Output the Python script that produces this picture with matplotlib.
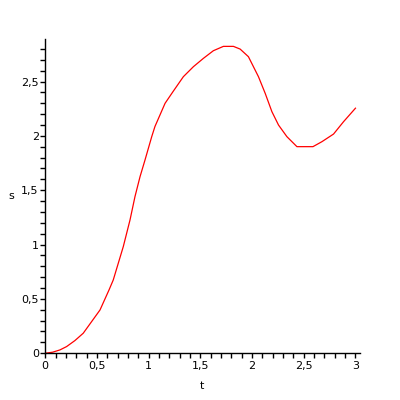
import numpy as np
import matplotlib
matplotlib.use("Agg")
import matplotlib.pyplot as plt
from matplotlib.ticker import MultipleLocator, FuncFormatter

# values
t = [0.0, 0.071, 0.142, 0.207, 0.287, 0.368, 0.449, 0.530, 0.617, 0.658,
     0.755, 0.820, 0.868, 0.917, 0.965, 1.030, 1.061, 1.159, 1.239, 1.336,
     1.433, 1.530, 1.626, 1.723, 1.820, 1.885, 1.965, 2.062, 2.127, 2.192,
     2.256, 2.337, 2.434, 2.589, 2.676, 2.788, 2.885, 3.0]
s = [0.0, 0.009, 0.030, 0.061, 0.116, 0.184, 0.291, 0.398, 0.582, 0.674,
     0.981, 1.226, 1.441, 1.625, 1.778, 1.993, 2.086, 2.300, 2.412, 2.545,
     2.637, 2.714, 2.784, 2.824, 2.824, 2.799, 2.729, 2.545, 2.392, 2.223,
     2.100, 1.993, 1.901, 1.901, 1.947, 2.017, 2.131, 2.255]

fig = plt.figure(figsize=(4, 4), dpi=100)
ax = fig.add_axes([0.113, 0.117, 0.786, 0.785])
ax.plot(t, s, color="red", lw=0.9)

ax.set_xlim(0, 3.04)
ax.set_ylim(0, 2.89)
for side in ["top", "right"]:
    ax.spines[side].set_visible(False)
for side in ["left", "bottom"]:
    ax.spines[side].set_linewidth(1.0)

comma = FuncFormatter(lambda v, p: ("%g" % v).replace(".", ","))
ax.xaxis.set_major_locator(MultipleLocator(0.5))
ax.yaxis.set_major_locator(MultipleLocator(0.5))
ax.xaxis.set_minor_locator(MultipleLocator(0.1))
ax.yaxis.set_minor_locator(MultipleLocator(0.1))
ax.xaxis.set_major_formatter(comma)
ax.yaxis.set_major_formatter(comma)
ax.tick_params(which="both", direction="out", length=3.6, width=1.0, labelsize=8)
ax.tick_params(axis="y", pad=1)
ax.tick_params(axis="x", pad=2)

ax.set_xlabel("t", fontsize=8, labelpad=7)
ax.set_ylabel("s", fontsize=8, rotation=0, labelpad=7, va="center")

fig.savefig("out.png", dpi=100)
